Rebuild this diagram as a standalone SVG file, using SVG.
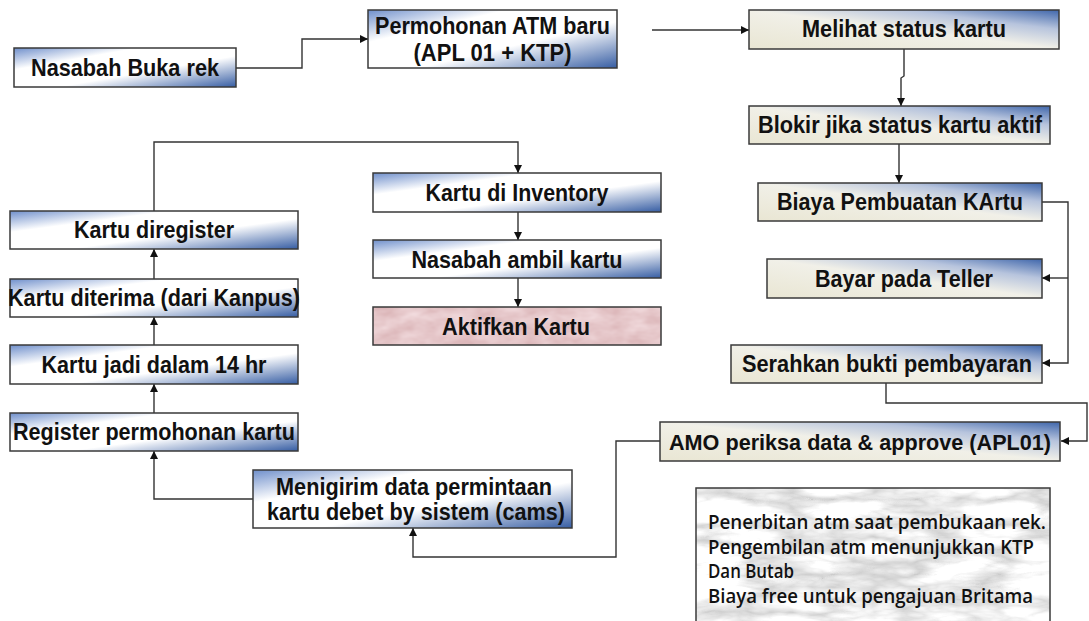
<svg xmlns="http://www.w3.org/2000/svg" width="1089" height="621" viewBox="0 0 1089 621">
<defs>
  <linearGradient id="gA" x1="0" y1="0" x2="1" y2="1">
    <stop offset="0" stop-color="#6f8fcb"/>
    <stop offset="0.28" stop-color="#ffffff"/>
    <stop offset="0.6" stop-color="#ffffff"/>
    <stop offset="1" stop-color="#365da3"/>
  </linearGradient>
  <linearGradient id="gB" x1="0" y1="1" x2="1" y2="0">
    <stop offset="0" stop-color="#e9e6d3"/>
    <stop offset="0.5" stop-color="#f1f0e8"/>
    <stop offset="0.75" stop-color="#b7c4dd"/>
    <stop offset="1" stop-color="#3f66ab"/>
  </linearGradient>
  <filter id="marble" x="0" y="0" width="100%" height="100%" color-interpolation-filters="sRGB">
    <feTurbulence type="turbulence" baseFrequency="0.012 0.04" numOctaves="4" seed="11" result="t"/>
    <feColorMatrix in="t" type="matrix" values="0.45 0 0 0 0.8  0.45 0 0 0 0.8  0.45 0 0 0 0.8  0 0 0 0 1" result="g"/>
    <feComposite in="g" in2="SourceGraphic" operator="in"/>
  </filter>
  <filter id="pinkm" x="0" y="0" width="100%" height="100%" color-interpolation-filters="sRGB">
    <feTurbulence type="fractalNoise" baseFrequency="0.04 0.08" numOctaves="3" seed="2" result="t"/>
    <feColorMatrix in="t" type="matrix" values="0.12 0 0 0 0.84  0.2 0 0 0 0.68  0.2 0 0 0 0.69  0 0 0 0 1" result="g"/>
    <feComposite in="g" in2="SourceGraphic" operator="in"/>
  </filter>
  <marker id="arr" viewBox="0 0 10 10" refX="10" refY="5" markerWidth="9" markerHeight="8" markerUnits="userSpaceOnUse" orient="auto">
    <path d="M0,0 L10,5 L0,10 z" fill="#111"/>
  </marker>
</defs>
<style>
  .bx { stroke: #3a3a3a; stroke-width: 1.5; }
  .a { fill: url(#gA); }
  .b { fill: url(#gB); }
  .t { font-family: "Liberation Sans", Arimo, Arial, sans-serif; font-weight: bold; font-size: 24px; fill: #111; text-anchor: middle; }
  .s { font-size: 22px; }
  .n { font-family: "Open Sans", "DejaVu Sans", sans-serif; font-weight: 600; font-size: 19px; fill: #111; }
  .c { fill: none; stroke: #333; stroke-width: 1.4; }
  .m { marker-end: url(#arr); }
</style>
<rect width="1089" height="621" fill="#ffffff"/>

<g id="connectors">
  <path class="c m" d="M236,68 H302 V39 H368"/>
  <path class="c m" d="M652,30 H749"/>
  <path class="c m" d="M904,49 V76 L901,78 V106"/>
  <path class="c m" d="M899,144 V183"/>
  <path class="c m" d="M1042,202 H1068 V363 H1042"/>
  <path class="c m" d="M1068,278 H1042"/>
  <path class="c m" d="M886,383 V403 H1087 V441 H1061"/>
  <path class="c m" d="M660,441 H616 V557 H413 V528"/>
  <path class="c m" d="M253,499 H154 V451"/>
  <path class="c m" d="M154,413 V384"/>
  <path class="c m" d="M154,345 V317"/>
  <path class="c m" d="M154,279 V249"/>
  <path class="c m" d="M154,211 V142 H518 V173"/>
  <path class="c m" d="M518,212 V240"/>
  <path class="c m" d="M518,278 V307"/>
</g>

<g id="n-nasabah-buka">
  <rect class="bx a" x="14" y="48" width="222" height="39"/>
  <text class="t" x="125" y="76" textLength="188" lengthAdjust="spacingAndGlyphs">Nasabah Buka rek</text>
</g>
<g id="n-permohonan">
  <rect class="bx a" x="368" y="10" width="249" height="58"/>
  <text class="t" x="492.5" y="34" textLength="235" lengthAdjust="spacingAndGlyphs">Permohonan ATM baru</text>
  <text class="t" x="492.5" y="61" textLength="158" lengthAdjust="spacingAndGlyphs">(APL 01 + KTP)</text>
</g>
<g id="n-melihat">
  <rect class="bx b" x="749" y="10" width="310" height="39"/>
  <text class="t" x="904" y="37" textLength="204" lengthAdjust="spacingAndGlyphs">Melihat status kartu</text>
</g>
<g id="n-blokir">
  <rect class="bx b" x="749" y="106" width="301" height="38"/>
  <text class="t" x="900" y="133" textLength="284" lengthAdjust="spacingAndGlyphs">Blokir jika status kartu aktif</text>
</g>
<g id="n-biaya">
  <rect class="bx b" x="758" y="183" width="284" height="38"/>
  <text class="t" x="900" y="210" textLength="246" lengthAdjust="spacingAndGlyphs">Biaya Pembuatan KArtu</text>
</g>
<g id="n-bayar">
  <rect class="bx b" x="767" y="259" width="275" height="39"/>
  <text class="t" x="904" y="287" textLength="178" lengthAdjust="spacingAndGlyphs">Bayar pada Teller</text>
</g>
<g id="n-serahkan">
  <rect class="bx b" x="731" y="345" width="311" height="38"/>
  <text class="t" x="887" y="372" textLength="290" lengthAdjust="spacingAndGlyphs">Serahkan bukti pembayaran</text>
</g>
<g id="n-amo">
  <rect class="bx b" x="660" y="422" width="400" height="39"/>
  <text class="t s" x="860" y="450" textLength="382" lengthAdjust="spacingAndGlyphs">AMO periksa data &amp; approve (APL01)</text>
</g>
<g id="n-menigirim">
  <rect class="bx a" x="253" y="470" width="319" height="58"/>
  <text class="t" x="414" y="495" textLength="276" lengthAdjust="spacingAndGlyphs">Menigirim data permintaan</text>
  <text class="t" x="416" y="520" textLength="298" lengthAdjust="spacingAndGlyphs">kartu debet by sistem (cams)</text>
</g>
<g id="n-register">
  <rect class="bx a" x="10" y="413" width="288" height="38"/>
  <text class="t" x="154" y="440" textLength="282" lengthAdjust="spacingAndGlyphs">Register permohonan kartu</text>
</g>
<g id="n-jadi">
  <rect class="bx a" x="10" y="345" width="288" height="39"/>
  <text class="t" x="154" y="373" textLength="225" lengthAdjust="spacingAndGlyphs">Kartu jadi dalam 14 hr</text>
</g>
<g id="n-diterima">
  <rect class="bx a" x="10" y="279" width="288" height="38"/>
  <text class="t" x="154" y="306" textLength="292" lengthAdjust="spacingAndGlyphs">Kartu diterima (dari Kanpus)</text>
</g>
<g id="n-diregister">
  <rect class="bx a" x="10" y="211" width="288" height="38"/>
  <text class="t" x="154" y="238" textLength="160" lengthAdjust="spacingAndGlyphs">Kartu diregister</text>
</g>
<g id="n-inventory">
  <rect class="bx a" x="373" y="173" width="288" height="39"/>
  <text class="t" x="517" y="201" textLength="183" lengthAdjust="spacingAndGlyphs">Kartu di Inventory</text>
</g>
<g id="n-ambil">
  <rect class="bx a" x="373" y="240" width="288" height="38"/>
  <text class="t" x="517" y="268" textLength="211" lengthAdjust="spacingAndGlyphs">Nasabah ambil kartu</text>
</g>
<g id="n-aktifkan">
  <rect x="373" y="307" width="288" height="38" fill="#e3c2c3" filter="url(#pinkm)"/>
  <rect class="bx" x="373" y="307" width="288" height="38" fill="none"/>
  <text class="t" x="516" y="335" textLength="148" lengthAdjust="spacingAndGlyphs">Aktifkan Kartu</text>
</g>
<g id="n-note">
  <rect x="696" y="488" width="354" height="140" fill="#e6e6e6" filter="url(#marble)"/>
  <rect class="bx" x="696" y="488" width="354" height="140" fill="none"/>
  <text class="n" x="708" y="529" textLength="338" lengthAdjust="spacingAndGlyphs">Penerbitan atm saat pembukaan rek.</text>
  <text class="n" x="708" y="554" textLength="326" lengthAdjust="spacingAndGlyphs">Pengembilan atm menunjukkan KTP</text>
  <text class="n" x="708" y="578" textLength="86" lengthAdjust="spacingAndGlyphs">Dan Butab</text>
  <text class="n" x="708" y="603" textLength="325" lengthAdjust="spacingAndGlyphs">Biaya free untuk pengajuan Britama</text>
</g>
</svg>
